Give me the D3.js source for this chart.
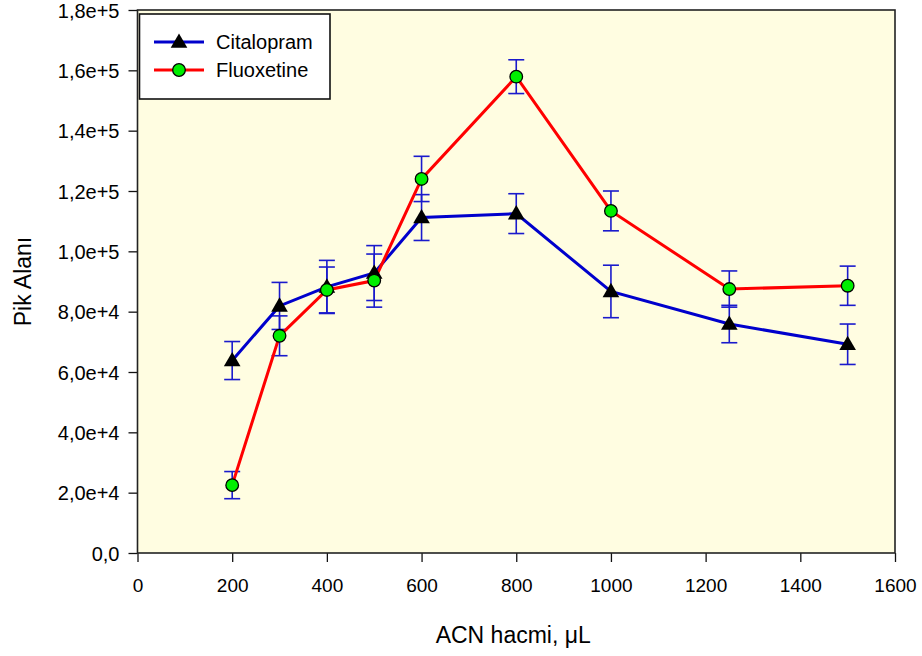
<!DOCTYPE html>
<html>
<head>
<meta charset="utf-8">
<script src="https://cdn.jsdelivr.net/npm/d3@7"></script>
<style>
  body { margin: 0; background: #fff; }
  text { font-family: "Liberation Sans", Arial, sans-serif; fill: #000; }
</style>
</head>
<body>
<div id="main"></div>
<script>
// data
const volumes = [200, 300, 400, 500, 600, 800, 1000, 1250, 1500];
const citalopram = [63800, 81900, 88200, 92800, 111200, 112500, 86700, 75900, 69200];
const citalopramErr = [6300, 7800, 8800, 9100, 7600, 6600, 8700, 6200, 6700];
const fluoxetine = [22500, 72000, 87200, 90300, 124000, 157900, 113400, 87500, 88600];
const fluoxetineErr = [4500, 6600, 7600, 8800, 7500, 5600, 6600, 6000, 6500];
const xTicks = [0, 200, 400, 600, 800, 1000, 1200, 1400, 1600];
const yTicks = [0, 20000, 40000, 60000, 80000, 100000, 120000, 140000, 160000, 180000];

let width = 922, height = 656;
let margin = {top: 10, right: 27, bottom: 103, left: 137.5};

let x = d3.scaleLinear()
	.domain([0, 1600])
	.range([margin.left, width - margin.right]);

let y = d3.scaleLinear()
	.domain([0, 180000])
	.range([height - margin.bottom, margin.top]);

const fmtY = v => v === 0 ? "0,0" : (v / Math.pow(10, Math.floor(Math.log10(v)))).toFixed(1).replace(".", ",") + "e+" + Math.floor(Math.log10(v));

let svg = d3.select("#main")
	.append("svg")
		.attr("width", width)
		.attr("height", height);

// plot background
svg.append("rect")
	.attr("x", x(0)).attr("y", y(180000))
	.attr("width", x(1600) - x(0)).attr("height", y(0) - y(180000))
	.attr("fill", "#fffde1");

// X axis
let xAxis = svg.append("g")
	.attr("transform", `translate(0,${y(0)})`)
	.call(d3.axisBottom(x).tickValues(xTicks).tickSize(9).tickPadding(17).tickFormat(d => d));
xAxis.selectAll("text").style("font-size", "19px");

// Y axis
let yAxis = svg.append("g")
	.attr("transform", `translate(${x(0)},0)`)
	.call(d3.axisLeft(y).tickValues(yTicks).tickSize(9).tickPadding(9).tickFormat(fmtY));
yAxis.selectAll("text").style("font-size", "20px").attr("dy", "0.36em");

svg.selectAll(".domain").remove();
svg.selectAll(".tick line").attr("stroke", "#111").attr("stroke-width", 1.3);

// frame
svg.append("rect")
	.attr("x", x(0)).attr("y", y(180000))
	.attr("width", x(1600) - x(0)).attr("height", y(0) - y(180000))
	.attr("fill", "none").attr("stroke", "#222").attr("stroke-width", 1.6);

// axis titles
svg.append("text")
	.attr("x", (x(0) + x(1600)) / 2 - 3).attr("y", 643)
	.attr("text-anchor", "middle")
	.style("font-size", "23px")
	.text("ACN hacmi, μL");

svg.append("text")
	.attr("transform", `translate(31,${(y(0) + y(180000)) / 2}) rotate(-90)`)
	.attr("text-anchor", "middle")
	.style("font-size", "23px")
	.text("Pik Alanı");

const series = [
	{name: "Citalopram", values: citalopram, err: citalopramErr, color: "#0000cc", marker: "tri"},
	{name: "Fluoxetine", values: fluoxetine, err: fluoxetineErr, color: "#ff0000", marker: "circ"}
];

// error bars
series.forEach(s => {
	let g = svg.append("g").attr("stroke", "#1a1acc").attr("stroke-width", 1.6);
	volumes.forEach((v, i) => {
		let lo = y(s.values[i] - s.err[i]), hi = y(s.values[i] + s.err[i]);
		g.append("line").attr("x1", x(v)).attr("x2", x(v)).attr("y1", lo).attr("y2", hi);
		g.append("line").attr("x1", x(v) - 8).attr("x2", x(v) + 8).attr("y1", lo).attr("y2", lo);
		g.append("line").attr("x1", x(v) - 8).attr("x2", x(v) + 8).attr("y1", hi).attr("y2", hi);
	});
});

// lines
const line = d3.line().x((d, i) => x(volumes[i])).y(d => y(d));
series.forEach(s => {
	svg.append("path")
		.datum(s.values)
		.attr("d", line)
		.attr("fill", "none")
		.attr("stroke", s.color)
		.attr("stroke-width", 3);
});

const triangle = d3.symbol().type(d3.symbolTriangle).size(120);

const drawMarker = (g, type, cx, cy) => {
	if (type === "tri") {
		g.append("path")
			.attr("d", triangle())
			.attr("transform", `translate(${cx},${cy + 1})`)
			.attr("fill", "#000");
	} else {
		g.append("circle")
			.attr("cx", cx).attr("cy", cy).attr("r", 6.3)
			.attr("fill", "#00ee00").attr("stroke", "#000").attr("stroke-width", 1.3);
	}
};

// markers
series.forEach(s => {
	let g = svg.append("g");
	volumes.forEach((v, i) => drawMarker(g, s.marker, x(v), y(s.values[i])));
});

// legend
let legend = svg.append("g");
legend.append("rect")
	.attr("x", 139.5).attr("y", 14)
	.attr("width", 190.5).attr("height", 85)
	.attr("fill", "#fff").attr("stroke", "#111").attr("stroke-width", 1.6);
series.forEach((s, i) => {
	let ly = 42 + i * 28;
	legend.append("line")
		.attr("x1", 154).attr("x2", 204).attr("y1", ly).attr("y2", ly)
		.attr("stroke", s.color).attr("stroke-width", 3);
	drawMarker(legend, s.marker, 179, ly);
	legend.append("text")
		.attr("x", 216).attr("y", ly).attr("dy", "0.36em")
		.style("font-size", "20px")
		.text(s.name);
});
</script>
</body>
</html>
